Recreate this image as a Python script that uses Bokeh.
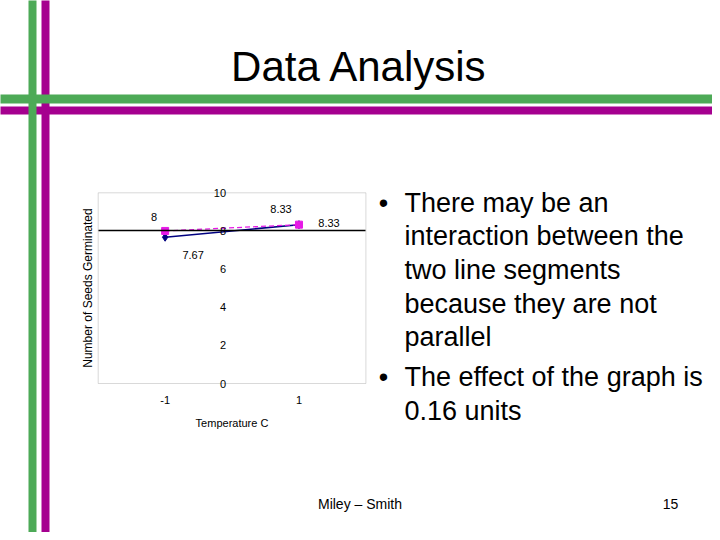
import math
from bokeh.plotting import figure
from bokeh.models import Range1d, FixedTicker, Label, BoxAnnotation, ColumnDataSource, PrintfTickFormatter
from bokeh.core.properties import value
from bokeh.embed import file_html
from bokeh.resources import INLINE

# ---------------- data ----------------
temperature = [-1, 1]
series_navy = [7.67, 8.33]
series_magenta = [8.0, 8.33]
x_ticks = [-1, 1]
y_ticks = [0, 2, 4, 6, 8, 10]
x_limits = (-2, 2)
y_limits = (0, 10)
axis_cross = 8

title_text = "Data Analysis"
bullet_lines = [
    ("\u2022", "There may be an"),
    ("", "interaction between the"),
    ("", "two line segments"),
    ("", "because they are not"),
    ("", "parallel"),
    ("\u2022", "The effect of the graph is"),
    ("", "0.16 units"),
]
footer_text = "Miley \u2013 Smith"
page_number = "15"

# ---------------- styling / layout ----------------
FONT = "Liberation Sans"
NAVY = "#000080"
MAGENTA = "#E619E6"
GREEN = "#4DAA57"
PURPLE = "#A5008F"

W, H = 712, 532
# pixel box of the chart's plot area on the slide
BOX_L, BOX_R, BOX_T, BOX_B = 97.7, 365.4, 192.3, 383.0

ppx = (BOX_R - BOX_L) / (x_limits[1] - x_limits[0])
ppy = (BOX_B - BOX_T) / (y_limits[1] - y_limits[0])
xr = Range1d(x_limits[0] - BOX_L / ppx, x_limits[1] + (W - BOX_R) / ppx)
yr = Range1d(y_limits[0] - (H - BOX_B) / ppy, y_limits[1] + BOX_T / ppy)

p = figure(width=W, height=H, output_backend="svg", toolbar_location=None,
           x_range=xr, y_range=yr,
           min_border_left=0, min_border_top=0, min_border_right=0, min_border_bottom=0,
           background_fill_color="white", border_fill_color="white",
           outline_line_color=None)
p.title.visible = False
p.grid.visible = False

def sx(px):
    return px

def sy(py):
    return H - py

# plot-area border
p.add_layout(BoxAnnotation(left=x_limits[0], right=x_limits[1], bottom=y_limits[0], top=y_limits[1],
                           fill_alpha=0, line_color="#808080", line_width=1, level="underlay"))

# x axis: crosses at y = 8, labels at the bottom of the plot area
xa = p.xaxis[0]
xa.fixed_location = axis_cross
xa.bounds = x_limits
xa.ticker = FixedTicker(ticks=x_ticks)
xa.formatter = PrintfTickFormatter(format="%d")
xa.axis_line_color = "black"
xa.axis_line_width = 1.3
xa.major_tick_line_color = None
xa.minor_tick_line_color = None
xa.major_tick_out = 0
xa.minor_tick_out = 0
xa.major_label_standoff = 165
xa.major_label_text_font = FONT
xa.major_label_text_font_size = "11px"
xa.major_label_text_color = "black"
xa.axis_label = "Temperature C"
xa.axis_label_text_font = FONT
xa.axis_label_text_font_size = "11px"
xa.axis_label_text_font_style = "normal"
xa.axis_label_text_color = "black"
xa.axis_label_standoff = 10

# y axis: crosses at x = 0
ya = p.yaxis[0]
ya.fixed_location = 0
ya.bounds = y_limits
ya.ticker = FixedTicker(ticks=y_ticks)
ya.axis_line_color = None
ya.major_tick_line_color = None
ya.minor_tick_line_color = None
ya.major_tick_out = 0
ya.minor_tick_out = 0
ya.major_label_standoff = 6
ya.major_label_text_font = FONT
ya.major_label_text_font_size = "11px"
ya.major_label_text_color = "black"
ya.axis_label = "Number of Seeds Germinated"
ya.axis_label_text_font = FONT
ya.axis_label_text_font_size = "12px"
ya.axis_label_text_font_style = "normal"
ya.axis_label_text_color = "black"
ya.axis_label_standoff = 116

# series
src_n = ColumnDataSource(dict(x=temperature, y=series_navy,
                              t=["%g" % v for v in series_navy],
                              dx=[28, 30], dy=[18, -2]))
src_m = ColumnDataSource(dict(x=temperature, y=series_magenta,
                              t=["%g" % v for v in series_magenta],
                              dx=[-11, -18], dy=[-14, -16]))

p.line("x", "y", source=src_n, line_color=NAVY, line_width=1.5)
p.scatter("x", "y", source=src_n, marker="diamond", size=8, fill_color=NAVY, line_color=NAVY)
p.line("x", "y", source=src_m, line_color=MAGENTA, line_width=1.3, line_dash="5 3")
p.scatter("x", "y", source=src_m, marker="square", size=7, fill_color=MAGENTA, line_color=MAGENTA)

for src in (src_n, src_m):
    p.text("x", "y", text="t", source=src, x_offset="dx", y_offset="dy",
           text_font=value(FONT), text_font_size="11px", text_color="black",
           text_align="center", text_baseline="middle")

# slide decorations
def box(l, r, t, b, color):
    p.add_layout(BoxAnnotation(left=sx(l), right=sx(r), top=sy(t), bottom=sy(b),
                               left_units="screen", right_units="screen",
                               top_units="screen", bottom_units="screen",
                               fill_color=color, fill_alpha=1, line_color=None))

box(41, 49, -10, 550, PURPLE)
box(-10, 730, 106, 114, PURPLE)
box(28, 36, -10, 550, GREEN)
box(-10, 730, 94, 103, GREEN)

def label(x, y, text, size, align="center"):
    p.add_layout(Label(x=sx(x), y=sy(y), x_units="screen", y_units="screen",
                       text=text, text_align=align, text_baseline="middle",
                       text_font=FONT, text_font_size=size, text_color="black"))

# title
label(359, 66, title_text, "42px")

# bullets
line_y = [202, 235, 269, 303, 336, 376, 410]
for (b, t), yy in zip(bullet_lines, line_y):
    if b:
        label(383, yy, b, "27px")
    label(404, yy, t, "27px", align="left")

# footer
label(359.5, 503, footer_text, "14px")
label(670, 503, page_number, "14px")

open("out.html", "w").write(file_html(p, INLINE))
